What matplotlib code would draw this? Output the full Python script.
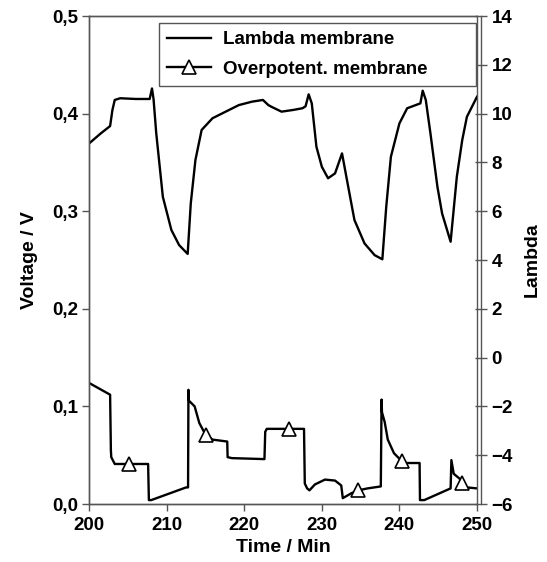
import matplotlib
matplotlib.use("Agg")
import matplotlib.pyplot as plt

plt.rcParams['font.family'] = ['Liberation Sans', 'DejaVu Sans']
plt.rcParams['font.weight'] = 'bold'

# lambda membrane (right axis)
lam_t = [200, 201.5, 202.7, 203.0, 203.3, 204.0, 206.0, 207.8, 208.1, 208.3, 208.65,
         209.5, 210.6, 211.6, 212.7, 213.1, 213.7, 214.5, 215.9, 217.6, 219.3, 221.0,
         222.4, 223.1, 223.5, 224.8, 226.3, 227.5, 227.9, 228.3, 228.7, 229.3, 230.0,
         230.8, 231.7, 232.6, 233.4, 234.2, 235.5, 236.8, 237.8, 238.3, 238.9, 240.0,
         241.0, 242.7, 243.0, 243.4, 244.0, 244.9, 245.5, 246.6, 247.4, 248.1, 248.7, 250]
lam_v = [8.78, 9.19, 9.49, 10.15, 10.56, 10.63, 10.6, 10.6, 11.03, 10.6, 9.19,
         6.59, 5.23, 4.61, 4.25, 6.32, 8.10, 9.33, 9.81, 10.08, 10.35, 10.49,
         10.56, 10.35, 10.28, 10.08, 10.15, 10.22, 10.3, 10.79, 10.42, 8.64, 7.82,
         7.35, 7.55, 8.37, 7.0, 5.64, 4.68, 4.20, 4.03, 6.18, 8.23, 9.60,
         10.22, 10.42, 10.94, 10.56, 9.19, 7.0, 5.91, 4.75, 7.41, 8.92, 9.87, 10.69]

# overpotential membrane (left axis)
op_t = [200, 202.7, 202.8, 202.85, 203.3, 205.2, 207.6, 207.7, 208.0, 212.5, 212.75,
        212.8, 212.85, 213.6, 214.2, 215.0, 215.9, 217.8, 217.85, 218.4, 222.6, 222.7,
        222.9, 225.7, 227.7, 227.8, 228.1, 228.4, 229.1, 230.4, 231.7, 232.5, 232.7,
        233.8, 234.7, 235.9, 237.6, 237.7, 237.75, 238.1, 238.5, 239.3, 240.3, 240.6,
        242.6, 242.65, 243.2, 246.6, 246.7, 247.0, 247.9, 248.1, 248.7, 250]
op_v = [0.124, 0.112, 0.055, 0.048, 0.041, 0.041, 0.041, 0.004, 0.004, 0.017, 0.017,
        0.117, 0.106, 0.100, 0.083, 0.071, 0.066, 0.064, 0.048, 0.047, 0.046, 0.074,
        0.077, 0.077, 0.077, 0.021, 0.016, 0.014, 0.020, 0.025, 0.024, 0.019, 0.006,
        0.011, 0.014, 0.016, 0.018, 0.107, 0.094, 0.084, 0.066, 0.052, 0.044, 0.042,
        0.042, 0.004, 0.004, 0.016, 0.045, 0.031, 0.025, 0.022, 0.017, 0.016]
mark_t = [205.2, 215.0, 225.7, 234.7, 240.3, 248.1]

x_ticks = [200, 210, 220, 230, 240, 250]
v_ticks = [0.0, 0.1, 0.2, 0.3, 0.4, 0.5]
v_labels = ['0,0', '0,1', '0,2', '0,3', '0,4', '0,5']
lam_ticks = [-6, -4, -2, 0, 2, 4, 6, 8, 10, 12, 14]

spine_col = '#555555'

fig, ax1 = plt.subplots(figsize=(5.47, 5.62), dpi=100)
fig.subplots_adjust(left=0.163, right=0.872, top=0.9715, bottom=0.1032)
ax2 = ax1.twinx()

marks = [op_t.index(m) for m in mark_t]
h_op, = ax1.plot(op_t, op_v, color='black', lw=1.7, marker='^', markevery=marks,
                 markersize=10, markerfacecolor='white', markeredgecolor='black',
                 markeredgewidth=1.2, label='Overpotent. membrane')
h_lam, = ax2.plot(lam_t, lam_v, color='black', lw=1.7, label='Lambda membrane')

ax1.set_xlim(200, 250)
ax1.set_ylim(0, 0.5)
ax2.set_ylim(-6, 14)
ax1.set_xticks(x_ticks)
ax1.set_yticks(v_ticks)
ax1.set_yticklabels(v_labels)
ax2.set_yticks(lam_ticks)

for ax in (ax1, ax2):
    for s in ax.spines.values():
        s.set_color(spine_col)
        s.set_linewidth(1.0)
# right axis sits just outside the plot frame
ax2.spines['right'].set_position(('outward', 3))

ax1.tick_params(axis='both', direction='out', length=5, width=1, color=spine_col,
                labelsize=13.5, pad=3)
ax1.tick_params(axis='x', pad=4)
ax2.tick_params(axis='y', direction='inout', length=9, width=1, color=spine_col,
                labelsize=13.5, pad=3)

ax1.set_xlabel('Time / Min', fontsize=14, fontweight='bold', labelpad=4)
ax1.set_ylabel('Voltage / V', fontsize=14, fontweight='bold', labelpad=10)
ax2.set_ylabel('Lambda', fontsize=14, fontweight='bold', labelpad=8)

# legend box stretched over the fixed frame of the original
leg = ax2.legend(handles=[h_lam, h_op], loc='upper left',
                 bbox_to_anchor=(0.180, 0.7, 0.817, 0.286), mode='expand',
                 borderaxespad=0, fancybox=False, framealpha=1, fontsize=13.5,
                 handlelength=2.35, borderpad=0.45, labelspacing=0.66, handletextpad=0.64)
leg.get_frame().set_edgecolor(spine_col)
leg.get_frame().set_linewidth(1.0)

fig.savefig('out.png', dpi=100)
